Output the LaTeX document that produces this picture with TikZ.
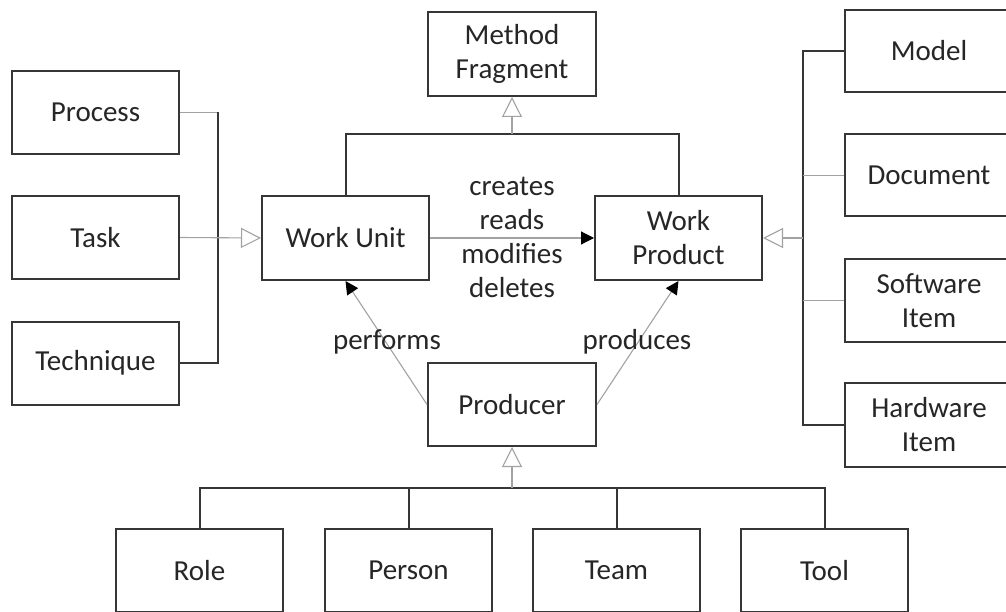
\documentclass[tikz,border=0pt]{standalone}
\usepackage{fontspec}
\setmainfont{Carlito}
\usetikzlibrary{arrows.meta}
\definecolor{linedark}{HTML}{363636}
\definecolor{linegray}{HTML}{A2A2A2}
\definecolor{txt}{HTML}{262626}
\tikzset{
  box/.style={draw=linedark, line width=2pt, minimum width=167pt, minimum height=83pt,
    inner sep=0pt, align=center, text=txt, font=\fontsize{29}{34}\selectfont},
  lbl/.style={inner sep=0pt, align=center, text=txt, font=\fontsize{29}{34}\selectfont},
  tree/.style={draw=linedark, line width=2pt},
  link/.style={draw=linegray, line width=1.1pt},
  inherit/.style={link, -{Triangle[open, length=20pt, width=20pt, line width=1.1pt]}},
  assoc/.style={link, -{Triangle[length=13pt, width=13pt, color=black]}}
}
\begin{document}
\begin{tikzpicture}[x=1pt, y=-1pt]
\useasboundingbox (0,0) rectangle (1006,612);
\clip (0,0) rectangle (1006,612);
\fill[white] (0,0) rectangle (1006,612);

% central classes
\node[box, minimum width=168pt, minimum height=84pt] (mf) at (512,54) {Method\\Fragment};
\node[box, minimum height=84pt] (wu) at (345.5,238) {Work Unit};
\node[box, minimum height=84pt] (wp) at (678.5,238) {Work\\Product};
\node[box, minimum width=168pt] (producer) at (512,404.5) {Producer};

% kinds of work unit
\node[box] (process) at (95.5,112.5) {Process};
\node[box] (task) at (95.5,237.5) {Task};
\node[box] (technique) at (95.5,363) {Technique};

% kinds of work product
\node[box, minimum width=168pt, minimum height=82pt] (model) at (929,51) {Model};
\node[box, minimum width=168pt, minimum height=82pt] (document) at (929,175.5) {Document};
\node[box, minimum width=168pt] (software) at (929,300.5) {Software\\Item};
\node[box, minimum width=168pt, minimum height=84pt] (hardware) at (929,425) {Hardware\\Item};

% kinds of producer
\node[box] (role) at (199.5,570.5) {Role};
\node[box] (person) at (408.5,570.5) {Person};
\node[box] (team) at (616.5,570.5) {Team};
\node[box] (tool) at (824.5,570.5) {Tool};

% junction points
\coordinate (wuj) at (218,237.5);
\coordinate (mfj) at (512,134);
\coordinate (wpj) at (803,238);
\coordinate (prj) at (512,488);

% work unit generalisation
\draw[link] (process.east) -- (process.east -| wuj);
\draw[tree] (process.east -| wuj) -- (technique.east -| wuj) -- (technique.east);
\draw[inherit] (task.east) -- (wu.west);

% method fragment generalisation
\draw[tree] (wu.north) -- (wu.north |- mfj) -- (wp.north |- mfj) -- (wp.north);
\draw[inherit] (mfj) -- (mf.south);

% work product generalisation
\draw[tree] (model.west) -- (model.west -| wpj) -- (hardware.west -| wpj) -- (hardware.west);
\draw[link] (document.west) -- (document.west -| wpj);
\draw[link] (software.west) -- (software.west -| wpj);
\draw[inherit] (wpj) -- (wp.east);

% producer generalisation
\draw[tree] (role.north) -- (role.north |- prj) -- (tool.north |- prj) -- (tool.north);
\draw[tree] (person.north) -- (person.north |- prj);
\draw[tree] (team.north) -- (team.north |- prj);
\draw[inherit] (prj) -- (producer.south);

% associations
\draw[assoc] (wu.east) -- (wp.west);
\node[lbl] (crud) at (512,237) {creates\\reads\\modifies\\deletes};
\draw[assoc] (producer.west) -- (wu.south);
\draw[assoc] (producer.east) -- (wp.south);
\node[lbl] (performs) at (387,342) {performs};
\node[lbl] (produces) at (637,342) {produces};
\end{tikzpicture}
\end{document}
